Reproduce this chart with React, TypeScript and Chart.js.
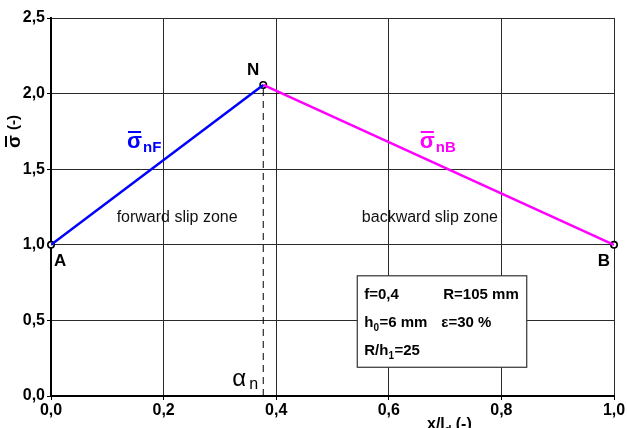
import React, { useEffect, useRef } from "react";
import { Chart, registerables } from "chart.js";
Chart.register(...registerables);

const forwardX = [0, 0.377];
const forwardY = [1.0, 2.057];
const backwardX = [0.377, 1.0];
const backwardY = [2.057, 1.0];
const alphaN = 0.377;
const peakSigma = 2.057;
const xTicks = [0, 0.2, 0.4, 0.6, 0.8, 1.0];
const yTicks = [0, 0.5, 1.0, 1.5, 2.0, 2.5];

const FONT = "'Liberation Sans', Arial, sans-serif";
const fmt = (v: number) => v.toFixed(1).replace(".", ",");

const textPlugin = {
  id: "texts",
  afterDraw(chart: any) {
    const ctx = chart.ctx;
    const xs = chart.scales.x;
    const ys = chart.scales.y;
    const px = (v: number) => xs.getPixelForValue(v);
    const py = (v: number) => ys.getPixelForValue(v);
    ctx.save();
    ctx.textBaseline = "middle";
    // zone labels
    ctx.fillStyle = "#111";
    ctx.font = `16px ${FONT}`;
    ctx.textAlign = "center";
    ctx.fillText("forward slip zone", px(0.224), py(1.18));
    ctx.fillText("backward slip zone", px(0.673), py(1.18));
    // point labels
    ctx.fillStyle = "#000";
    ctx.font = `bold 17px ${FONT}`;
    ctx.textAlign = "left";
    ctx.fillText("A", px(0) + 3, py(1.0) + 17);
    ctx.textAlign = "right";
    ctx.fillText("B", px(1.0) - 4, py(1.0) + 17);
    ctx.textAlign = "center";
    ctx.fillText("N", px(alphaN) - 10, py(peakSigma) - 15);
    // alpha_n
    ctx.textAlign = "left";
    ctx.font = `24px ${FONT}`;
    ctx.fillText("α", px(alphaN) - 31, py(0) - 17);
    ctx.font = `16px ${FONT}`;
    ctx.fillText("n", px(alphaN) - 14, py(0) - 11);
    // sigma labels
    const sig = (x: number, y: number, sub: string, color: string) => {
      ctx.fillStyle = color;
      ctx.strokeStyle = color;
      ctx.font = `bold 22px ${FONT}`;
      ctx.textAlign = "left";
      ctx.fillText("σ", x, y);
      const w = ctx.measureText("σ").width;
      ctx.lineWidth = 2;
      ctx.beginPath();
      ctx.moveTo(x + 1, y - 10);
      ctx.lineTo(x + w - 1, y - 10);
      ctx.stroke();
      ctx.font = `bold 15px ${FONT}`;
      ctx.fillText(sub, x + w + 1, y + 6);
    };
    sig(px(0.135), py(1.68), "nF", "#0000ff");
    sig(px(0.655), py(1.68), "nB", "#ff00ff");
    // y axis title
    ctx.save();
    ctx.translate(15, 128);
    ctx.rotate(-Math.PI / 2);
    ctx.fillStyle = "#000";
    ctx.strokeStyle = "#000";
    ctx.font = `bold 19px ${FONT}`;
    ctx.textAlign = "left";
    ctx.fillText("σ", -20, 0);
    const sw = ctx.measureText("σ").width;
    ctx.lineWidth = 2;
    ctx.beginPath();
    ctx.moveTo(-20 + 1, -9);
    ctx.lineTo(-20 + sw - 1, -9);
    ctx.stroke();
    ctx.font = `bold 15px ${FONT}`;
    ctx.fillText("(-)", -20 + sw + 5, -1);
    ctx.restore();
    // x axis title
    ctx.fillStyle = "#000";
    ctx.font = `bold 16px ${FONT}`;
    ctx.textAlign = "left";
    const tx = 427;
    ctx.fillText("x/l", tx, 425);
    const lw = ctx.measureText("x/l").width;
    ctx.font = `bold 11px ${FONT}`;
    ctx.fillText("d", tx + lw, 430);
    ctx.font = `bold 16px ${FONT}`;
    ctx.fillText("(-)", tx + lw + 11, 425);
    // info box
    const bx = px(0.544), by = py(0.795), bw = px(0.845) - bx, bh = py(0.19) - by;
    ctx.fillStyle = "#fff";
    ctx.fillRect(bx, by, bw, bh);
    ctx.strokeStyle = "#333";
    ctx.lineWidth = 1.2;
    ctx.strokeRect(bx, by, bw, bh);
    ctx.fillStyle = "#000";
    ctx.font = `bold 15px ${FONT}`;
    ctx.textAlign = "left";
    const l1 = by + 19, l2 = by + 47, l3 = by + 75;
    ctx.fillText("f=0,4", bx + 7, l1);
    ctx.fillText("R=105 mm", bx + 86, l1);
    ctx.fillText("h", bx + 7, l2);
    let hw = ctx.measureText("h").width;
    ctx.font = `bold 10px ${FONT}`;
    ctx.fillText("0", bx + 7 + hw, l2 + 5);
    ctx.font = `bold 15px ${FONT}`;
    ctx.fillText("=6 mm", bx + 7 + hw + 6, l2);
    ctx.fillText("ε=30 %", bx + 84, l2);
    ctx.fillText("R/h", bx + 7, l3);
    hw = ctx.measureText("R/h").width;
    ctx.font = `bold 10px ${FONT}`;
    ctx.fillText("1", bx + 7 + hw, l3 + 5);
    ctx.font = `bold 15px ${FONT}`;
    ctx.fillText("=25", bx + 7 + hw + 6, l3);
    ctx.restore();
  },
};

export default function App() {
  const ref = useRef<HTMLCanvasElement | null>(null);
  useEffect(() => {
    if (!ref.current) return;
    const pts = (xs: number[], ys: number[]) => xs.map((x, i) => ({ x, y: ys[i] }));
    const chart = new Chart(ref.current, {
      type: "scatter",
      data: {
        datasets: [
          {
            data: [{ x: alphaN, y: 0 }, { x: alphaN, y: peakSigma }],
            showLine: true,
            borderColor: "#000",
            borderWidth: 1,
            borderDash: [7, 5],
            pointRadius: 0,
          },
          {
            data: pts(forwardX, forwardY),
            showLine: true,
            borderColor: "#0000ff",
            borderWidth: 2.5,
            pointRadius: 0,
          },
          {
            data: pts(backwardX, backwardY),
            showLine: true,
            borderColor: "#ff00ff",
            borderWidth: 2.5,
            pointRadius: 0,
          },
          {
            data: [pts(forwardX, forwardY)[0], pts(forwardX, forwardY)[1], pts(backwardX, backwardY)[1]],
            showLine: false,
            clip: false,
            pointRadius: 3.2,
            pointBackgroundColor: "#fff",
            pointBorderColor: "#000",
            pointBorderWidth: 1.6,
          },
        ],
      },
      options: {
        animation: false,
        responsive: false,
        layout: { padding: { top: 18, right: 13, left: 0, bottom: 0 } },
        plugins: { legend: { display: false }, tooltip: { enabled: false } },
        scales: {
          x: {
            type: "linear",
            min: 0,
            max: 1,
            afterBuildTicks: (s: any) => { s.ticks = xTicks.map((v) => ({ value: v })); },
            afterFit: (s: any) => { s.height = 32; },
            ticks: {
              callback: (v: any) => fmt(Number(v)),
              color: "#000",
              font: { family: FONT, size: 16, weight: "bold" },
              padding: 1,
              maxRotation: 0,
            },
            grid: { color: "#2a2a2a", lineWidth: 1, tickLength: 4, tickColor: "#000" },
            border: { color: "#000", width: 2 },
          },
          y: {
            type: "linear",
            min: 0,
            max: 2.5,
            afterBuildTicks: (s: any) => { s.ticks = yTicks.map((v) => ({ value: v })); },
            afterFit: (s: any) => { s.width = 51; },
            ticks: {
              callback: (v: any) => fmt(Number(v)),
              color: "#000",
              font: { family: FONT, size: 16, weight: "bold" },
              padding: 2,
            },
            grid: { color: "#2a2a2a", lineWidth: 1, tickLength: 4, tickColor: "#000" },
            border: { color: "#000", width: 2 },
          },
        },
      },
      plugins: [textPlugin],
    });
    return () => chart.destroy();
  }, []);
  return (
    <div style={{ position: "fixed", left: 0, top: 0, width: 627, height: 428, background: "#fff" }}>
      <canvas ref={ref} width={627} height={428} style={{ width: 627, height: 428 }} />
    </div>
  );
}
